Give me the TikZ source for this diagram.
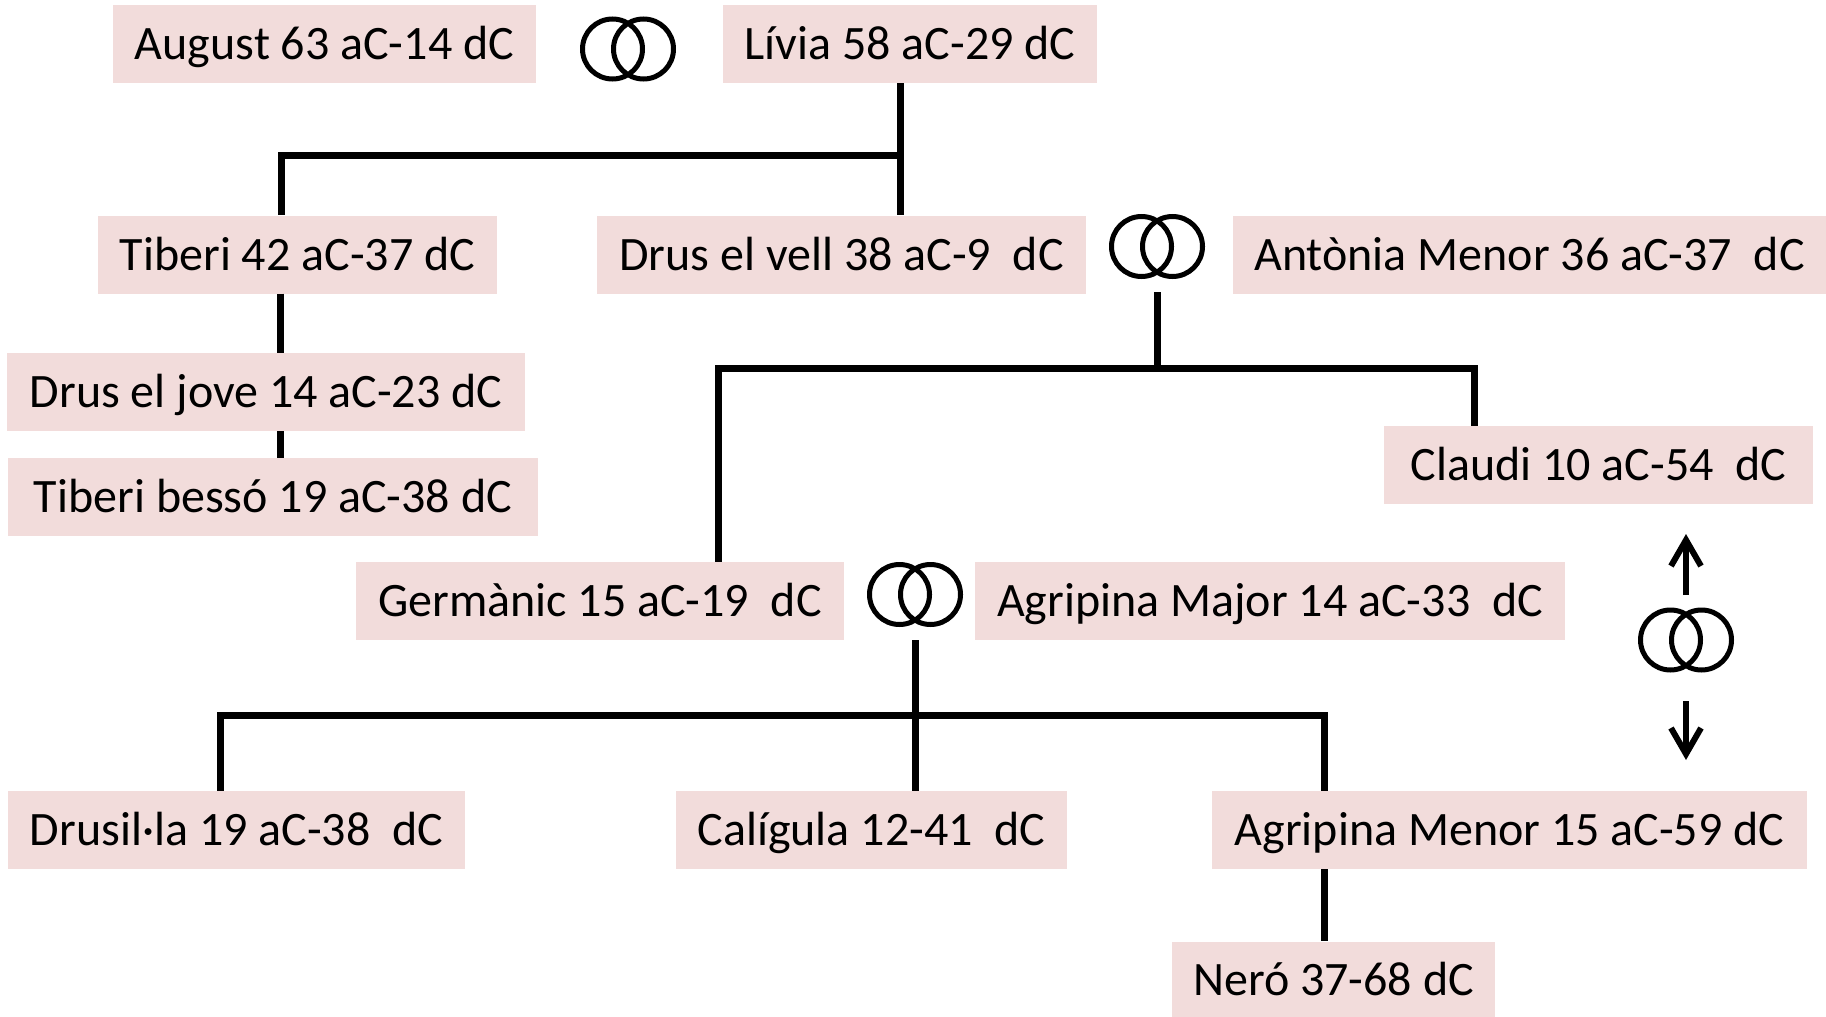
\documentclass[tikz,border=0pt]{standalone}
\usepackage{fontspec}
\setmainfont{Carlito}
\usetikzlibrary{arrows.meta}
\definecolor{boxpink}{RGB}{242,220,219}
\begin{document}
\begin{tikzpicture}[x=1pt,y=-1pt,
  pbox/.style={fill=boxpink, inner sep=0pt, minimum height=78pt,
    text height=31pt, text depth=0pt, font=\fontsize{48pt}{56pt}\selectfont},
  conn/.style={line width=7pt, line join=miter},
  ring/.style={line width=5pt},
  arr/.style={line width=6pt, -{Straight Barb[length=26pt,width=30pt]}}]
\useasboundingbox (0,0) rectangle (1826,1017);
% persons
\node[pbox, minimum width=423pt] (august) at (324.5,44) {August 63 aC-14 dC};
\node[pbox, minimum width=374pt] (livia) at (910,44) {Lívia 58 aC-29 dC};
\node[pbox, minimum width=399pt] (tiberi) at (297.5,254.5) {Tiberi 42 aC-37 dC};
\node[pbox, minimum width=489pt] (drusv) at (841.5,254.5) {Drus el vell 38 aC-9~ dC};
\node[pbox, minimum width=593pt] (antonia) at (1529.5,255) {Antònia Menor 36 aC-37~ dC};
\node[pbox, minimum width=518pt] (drusj) at (266,392) {Drus el jove 14 aC-23 dC};
\node[pbox, minimum width=530pt] (tibb) at (273,497) {Tiberi bessó 19 aC-38 dC};
\node[pbox, minimum width=429pt] (claudi) at (1598.5,465) {Claudi 10 aC-54~ dC};
\node[pbox, minimum width=488pt] (germ) at (600,601) {Germànic 15 aC-19~ dC};
\node[pbox, minimum width=590pt] (agmaj) at (1270,600.5) {Agripina Major 14 aC-33~ dC};
\node[pbox, minimum width=457pt] (drusil) at (236.5,830) {Drusil·la 19 aC-38~ dC};
\node[pbox, minimum width=391pt] (calig) at (871.5,830) {Calígula 12-41~ dC};
\node[pbox, minimum width=595pt] (agmen) at (1509.5,830) {Agripina Menor 15 aC-59 dC};
\node[pbox, minimum width=323pt, minimum height=76pt] (nero) at (1333.5,979.5) {Neró 37-68 dC};
% rings (marriage symbols)
\coordinate (r1) at (628,49);
\coordinate (r2) at (1157,246.5);
\coordinate (r3) at (915,594.5);
\coordinate (r4) at (1686,640);
\foreach \r in {r1,r2,r3,r4}{
  \draw[ring] (\r) ++(-15.5,0) ellipse (30pt and 30pt) ++(31,0) ellipse (30pt and 30pt);
}
% Livia's children
\coordinate (j1) at (900,155);
\coordinate (j1l) at (281,155);
\draw[conn] (livia.south -| j1) -- (drusv.north -| j1);
\draw[conn] (j1) -- (j1l) -- (tiberi.north -| j1l);
% Tiberi line
\coordinate (tx) at (280,0);
\draw[conn] (tiberi.south -| tx) -- (drusj.north -| tx);
\draw[conn] (drusj.south -| tx) -- (tibb.north -| tx);
% Drus el vell + Antonia children
\coordinate (r2a) at (1157,292);
\coordinate (r2b) at (1157,368);
\coordinate (h2l) at (718,368);
\coordinate (h2r) at (1474,368);
\draw[conn] (r2a) -- (r2b);
\draw[conn] (germ.north -| h2l) -- (h2l) -- (h2r) -- (claudi.north -| h2r);
% Germanic + Agripina children
\coordinate (r3a) at (915,640);
\coordinate (h3l) at (220,715);
\coordinate (h3r) at (1324,715);
\draw[conn] (r3a) -- (calig.north -| r3a);
\draw[conn] (drusil.north -| h3l) -- (h3l) -- (h3r) -- (agmen.north -| h3r);
\draw[conn] (agmen.south -| h3r) -- (nero.north -| h3r);
% arrows around Claudi / Agripina Menor marriage
\coordinate (a1s) at (1686,595);
\coordinate (a1t) at (1686,534);
\coordinate (a2s) at (1686,701);
\coordinate (a2t) at (1686,760);
\draw[arr] (a1s) -- (a1t);
\draw[arr] (a2s) -- (a2t);
\end{tikzpicture}
\end{document}
